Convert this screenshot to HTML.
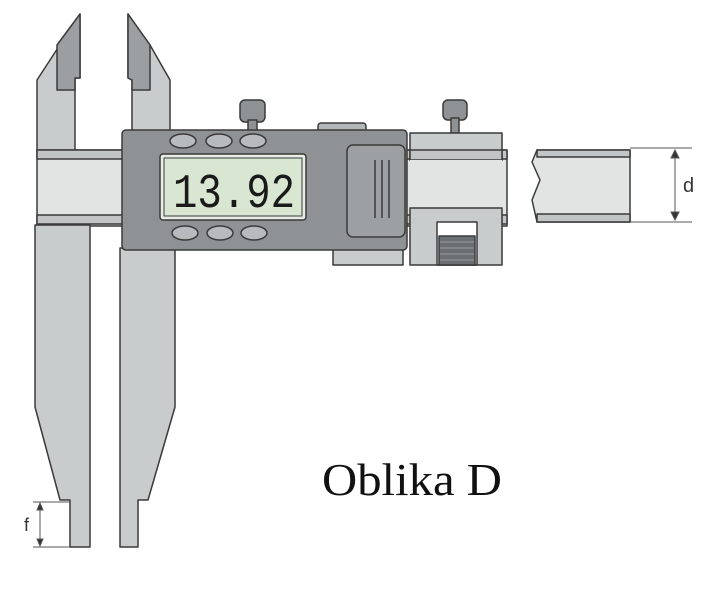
<!DOCTYPE html>
<html><head><meta charset="utf-8"><style>
html,body{margin:0;padding:0;background:#fff;width:717px;height:600px;overflow:hidden}
</style></head><body>
<svg width="717" height="600" viewBox="0 0 717 600" xmlns="http://www.w3.org/2000/svg">
<g stroke="#3a3a3a" stroke-width="1.5" stroke-linejoin="round">
<!-- upper left jaw -->
<polygon points="37,80 80,14 80,78 75,78 75,152 37,152" fill="#c9cccd"/>
<polygon points="57,45 80,14 80,78 75,78 75,90 57,90" fill="#9c9fa1"/>
<!-- upper right jaw -->
<polygon points="128,14 150,45 170,80 170,135 132,135 132,80 128,78" fill="#c9cccd"/>
<polygon points="128,14 150,45 150,90 132,90 132,80 128,78" fill="#9c9fa1"/>
<!-- beam -->
<rect x="37" y="150" width="470" height="76" fill="#e2e4e4"/>
<rect x="37" y="150" width="470" height="9" fill="#c2c5c6"/>
<rect x="37" y="215" width="470" height="9" fill="#c2c5c6"/>
<polygon points="537,150 630,150 630,222 537,222 532,200 540,180 532,162" fill="#e2e4e4"/>
<rect x="537" y="150" width="93" height="7" fill="#c2c5c6"/>
<rect x="537" y="214" width="93" height="8" fill="#c2c5c6"/>
<!-- lower left jaw -->
<polygon points="35,225 90,225 90,547 70,547 70,500 60,500 35,407" fill="#c9cccd"/>
<!-- lower right jaw -->
<polygon points="120,248 175,248 175,407 148,500 138,500 138,547 120,547" fill="#c9cccd"/>
<!-- body -->
<rect x="333" y="248" width="70" height="17" fill="#c9cccd"/>
<rect x="318" y="123" width="48" height="12" rx="3" fill="#b3b6b7"/>
<rect x="240" y="100" width="25" height="22" rx="5" fill="#8f9295"/>
<rect x="248" y="120" width="9" height="12" fill="#8f9295"/>
<rect x="122" y="130" width="285" height="120" rx="4" fill="#8f9295"/>
<rect x="347" y="145" width="58" height="92" rx="6" fill="#9da0a2"/>
<line x1="375" y1="160" x2="375" y2="218"/><line x1="382" y1="160" x2="382" y2="218"/><line x1="389" y1="160" x2="389" y2="218"/>
<rect x="160" y="154" width="146" height="66" rx="3" fill="#e7ece4"/>
<rect x="164" y="158" width="138" height="58" fill="#d8e6d2" stroke-width="1"/>
<g fill="#b8bbbd">
<ellipse cx="183" cy="141" rx="13" ry="7"/><ellipse cx="219" cy="141" rx="13" ry="7"/><ellipse cx="253" cy="141" rx="13" ry="7"/>
<ellipse cx="185" cy="233" rx="13" ry="7"/><ellipse cx="220" cy="233" rx="13" ry="7"/><ellipse cx="254" cy="233" rx="13" ry="7"/>
</g>
<!-- slider -->
<rect x="443" y="100" width="24" height="20" rx="5" fill="#8f9295"/>
<rect x="451" y="118" width="8" height="15" fill="#8f9295"/>
<rect x="410" y="133" width="92" height="27" fill="#c9cccd"/>
<rect x="410" y="150" width="92" height="10" fill="#c2c5c6"/>
<rect x="410" y="160" width="92" height="48" fill="#e2e4e4" stroke="none"/>
<rect x="410" y="208" width="92" height="57" fill="#c9cccd"/>
<rect x="437" y="222" width="40" height="43" fill="#ffffff"/>
<rect x="439" y="236" width="36" height="29" fill="#6c6f71"/>
</g>
<g stroke="#9a9c9d" stroke-width="1">
<line x1="440" y1="242" x2="474" y2="242"/><line x1="440" y1="248" x2="474" y2="248"/><line x1="440" y1="254" x2="474" y2="254"/><line x1="440" y1="260" x2="474" y2="260"/>
</g>
<!-- dimension d -->
<g stroke="#555" stroke-width="1" fill="#333">
<line x1="630" y1="148" x2="692" y2="148"/><line x1="630" y1="222" x2="692" y2="222"/>
<line x1="675" y1="150" x2="675" y2="220"/>
<polygon points="671,158 679,158 675,150"/><polygon points="671,212 679,212 675,220"/>
<!-- dimension f -->
<line x1="33" y1="502" x2="70" y2="502"/><line x1="33" y1="547" x2="70" y2="547"/>
<line x1="40" y1="504" x2="40" y2="545"/>
<polygon points="37,510 43,510 40,503"/><polygon points="37,539 43,539 40,546"/>
</g>
<text x="683" y="192" font-family="Liberation Sans, sans-serif" font-size="20" fill="#333">d</text>
<text x="24" y="531" font-family="Liberation Sans, sans-serif" font-size="18" fill="#333">f</text>
<text x="173" y="207" font-family="Liberation Mono, monospace" font-size="48" fill="#1a1a1a" textLength="122" lengthAdjust="spacingAndGlyphs">13.92</text>
<text x="322" y="495" font-family="Liberation Serif, serif" font-size="46" fill="#111" textLength="180" lengthAdjust="spacingAndGlyphs">Oblika D</text>
</svg>
</body></html>
